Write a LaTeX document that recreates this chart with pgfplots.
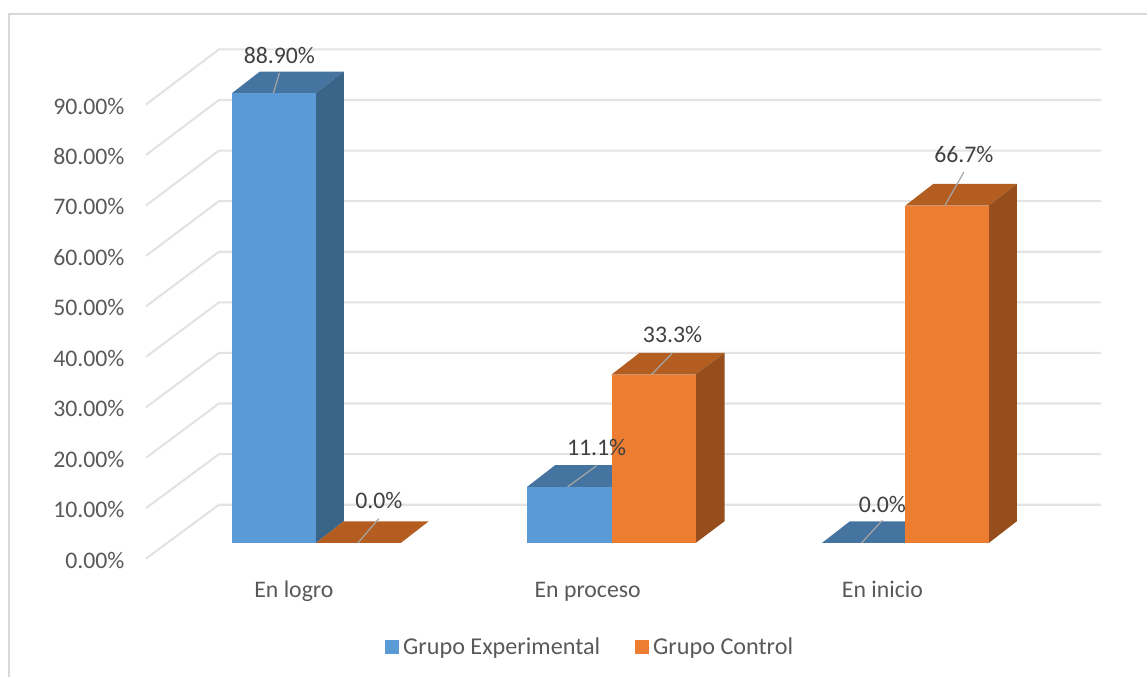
\documentclass[border=0pt]{standalone}
\usepackage{pgfplots}
\pgfplotsset{compat=1.18}
\usepackage{fontspec}
\setmainfont{Carlito}
\definecolor{gridc}{HTML}{E3E3E3}
\definecolor{framec}{HTML}{D9D9D9}
\definecolor{tickc}{HTML}{595959}
\definecolor{labc}{HTML}{404040}
\definecolor{leadc}{HTML}{A6A6A6}
\definecolor{bfront}{HTML}{5B9BD5}
\definecolor{btop}{HTML}{4574A1}
\definecolor{bside}{HTML}{3A6488}
\definecolor{ofront}{HTML}{ED7D31}
\definecolor{otop}{HTML}{B35D20}
\definecolor{oside}{HTML}{964E1C}
\pgfplotsset{
  base/.style={
    at={(0pt,0pt)}, anchor=south west,
    width=1148pt, height=677pt, scale only axis,
    xmin=0, xmax=1148, clip=false,
    axis line style={draw=none},
    major tick length=0pt,
    /pgf/number format/assume math mode=true,
    tick label style={font=\fontsize{23.8}{26}\selectfont, text=tickc},
  },
}
\newcommand{\gl}[2]{\addplot[gridc, line width=2.1pt, forget plot] coordinates {(146,#1)(219,#2)(1102,#2)};}
\begin{document}
\begin{tikzpicture}
% walls, value axis, categories
\begin{axis}[base,
  ymin=-23.366, ymax=110.693,
  ytick={0,10,20,30,40,50,60,70,80,90},
  yticklabels={0.00\%,10.00\%,20.00\%,30.00\%,40.00\%,50.00\%,60.00\%,70.00\%,80.00\%,90.00\%},
  yticklabel style={anchor=east, xshift=128pt, yshift=-1.5pt},
  xtick={294,588,883},
  xticklabels={En logro,En proceso,En inicio},
  xticklabel style={anchor=center, text height=16pt, text depth=5pt, yshift=84.5pt},
]
\addplot[framec, line width=1.6pt, forget plot] coordinates {(9,-23.366)(9,107.92)(1148,107.92)};
\gl{0}{10.69}
\gl{10}{20.71}
\gl{20}{30.74}
\gl{30}{40.77}
\gl{40}{50.79}
\gl{50}{60.82}
\gl{60}{70.85}
\gl{70}{80.87}
\gl{80}{90.90}
\gl{90}{100.92}
\end{axis}
% bars
\begin{axis}[base,
  ymin=-26.41, ymax=107.31,
  xtick=\empty, ytick=\empty,
  legend columns=2,
  legend style={draw=none, fill=none, at={(axis cs:590.5,-20.6)}, anchor=center,
    font=\fontsize{24.2}{26}\selectfont, text=tickc, /tikz/every even column/.append style={column sep=33pt}},
  legend cell align=left,
  legend image code/.code={\fill[#1, draw=none] (0pt,-7pt) rectangle (14pt,7pt);\path[draw=none] (0pt,0pt) -- (16pt,0pt);},
]
% Grupo Experimental
\addplot[btop, fill=btop, draw=none, forget plot] coordinates {(232,88.9)(316,88.9)(344,93.19)(260,93.19)} --cycle;
\addplot[bside, fill=bside, draw=none, forget plot] coordinates {(316,0)(344,4.29)(344,93.19)(316,88.9)} --cycle;
\addplot[ybar, bar width=84, bar shift=0pt, fill=bfront, draw=none, forget plot] coordinates {(274,88.9)};
\addplot[btop, fill=btop, draw=none, forget plot] coordinates {(527.5,11.1)(612,11.1)(640,15.39)(555.5,15.39)} --cycle;
\addplot[ybar, bar width=84.5, bar shift=0pt, fill=bfront, draw=none, forget plot] coordinates {(569.75,11.1)};
\addplot[btop, fill=btop, draw=none, forget plot] coordinates {(822.5,0)(906,0)(934,4.29)(850.5,4.29)} --cycle;
% Grupo Control
\addplot[otop, fill=otop, draw=none, forget plot] coordinates {(316,0)(401,0)(429,4.29)(344,4.29)} --cycle;
\addplot[otop, fill=otop, draw=none, forget plot] coordinates {(612,33.3)(696,33.3)(725,37.59)(640,37.59)} --cycle;
\addplot[oside, fill=oside, draw=none, forget plot] coordinates {(696,0)(725,4.29)(725,37.59)(696,33.3)} --cycle;
\addplot[ybar, bar width=84, bar shift=0pt, fill=ofront, draw=none, forget plot] coordinates {(654,33.3)};
\addplot[otop, fill=otop, draw=none, forget plot] coordinates {(906,66.7)(989.5,66.7)(1017.5,70.99)(934,70.99)} --cycle;
\addplot[oside, fill=oside, draw=none, forget plot] coordinates {(989.5,0)(1017.5,4.29)(1017.5,70.99)(989.5,66.7)} --cycle;
\addplot[ybar, bar width=83.5, bar shift=0pt, fill=ofront, draw=none, forget plot] coordinates {(947.75,66.7)};
% leader lines and data labels
\tikzset{dl/.style={pos=1, anchor=center, yshift=18pt, text=labc, font=\fontsize{23.8}{26}\selectfont}}
\addplot[leadc, line width=1.2pt, forget plot] coordinates {(273.5,88.9)(279.5,92.9)} node[dl]{88.90\%};
\addplot[leadc, line width=1.2pt, forget plot] coordinates {(358,0)(379,4.8)} node[dl]{0.0\%};
\addplot[leadc, line width=1.2pt, forget plot] coordinates {(568,11.1)(597,15.27)} node[dl]{11.1\%};
\addplot[leadc, line width=1.2pt, forget plot] coordinates {(652,33.3)(673,37.6)} node[dl]{33.3\%};
\addplot[leadc, line width=1.2pt, forget plot] coordinates {(862,0)(883,4.5)} node[dl,yshift=-2pt]{0.0\%};
\addplot[leadc, line width=1.2pt, forget plot] coordinates {(945.5,66.7)(964.5,73.3)} node[dl]{66.7\%};
\addlegendimage{fill=bfront}
\addlegendentry{Grupo Experimental}
\addlegendimage{fill=ofront}
\addlegendentry{Grupo Control}
\end{axis}
\end{tikzpicture}
\end{document}
